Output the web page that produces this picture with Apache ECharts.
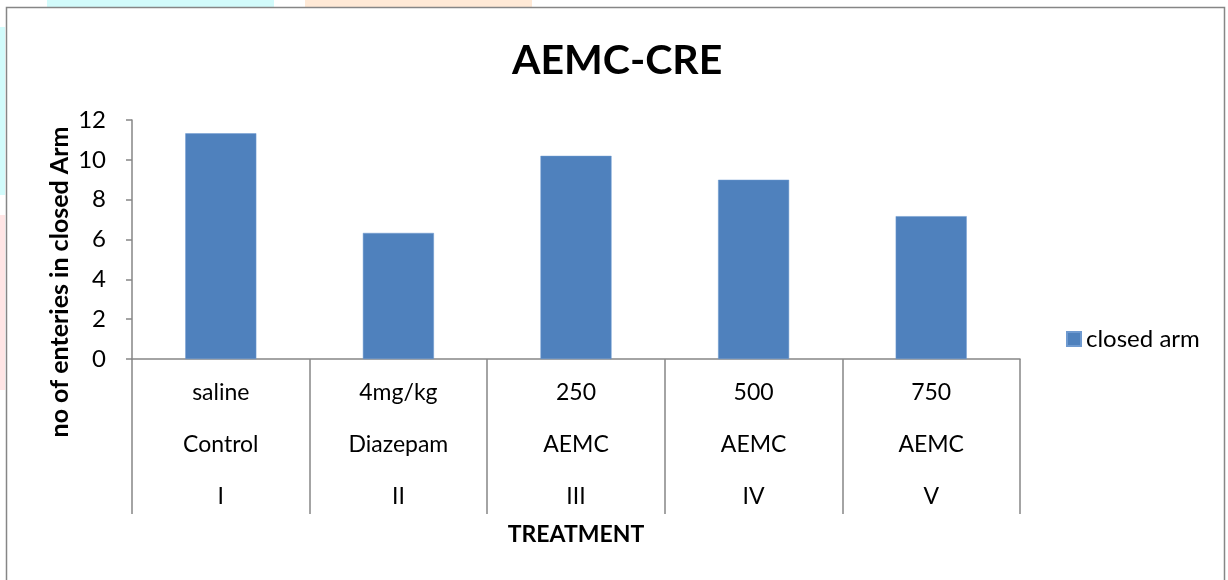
<!DOCTYPE html>
<html>
<head>
<meta charset="utf-8">
<script src="https://cdn.jsdelivr.net/npm/echarts@6/dist/echarts.min.js"></script>
<style>
html,body{margin:0;padding:0;background:#fff;}
#c{width:1228px;height:580px;}
</style>
</head>
<body>
<div id="c"></div>
<script>
const doses = ['saline', '4mg/kg', '250', '500', '750'];
const groups = ['Control', 'Diazepam', 'AEMC', 'AEMC', 'AEMC'];
const romans = ['I', 'II', 'III', 'IV', 'V'];
const closedArm = [11.33, 6.33, 10.2, 9.0, 7.17];
const yTicks = [0, 2, 4, 6, 8, 10, 12];

const categories = doses.map((d, i) => d + '\n' + groups[i] + '\n' + romans[i]);
const FONT = 'Lato, "Open Sans", sans-serif';

const chart = echarts.init(document.getElementById('c'));
chart.setOption({
  backgroundColor: '#fff',
  animation: false,
  title: {
    text: 'AEMC-CRE',
    left: 507,
    top: 35,
    textStyle: { fontFamily: FONT, fontSize: 41, fontWeight: 'bold', color: '#000' }
  },
  legend: {
    data: ['closed arm'],
    left: 1061,
    top: 322,
    itemWidth: 14,
    itemHeight: 14,
    itemGap: 6,
    icon: 'rect',
    textStyle: { fontFamily: FONT, fontSize: 24, color: '#000' }
  },
  grid: { left: 132, right: 208, top: 120, bottom: 221 },
  xAxis: {
    type: 'category',
    data: categories,
    boundaryGap: true,
    axisLine: { lineStyle: { color: '#868686', width: 1.5 } },
    axisTick: { show: true, length: 155, interval: 0, alignWithLabel: false, lineStyle: { color: '#868686', width: 1.5 } },
    axisLabel: { interval: 0, margin: 8, lineHeight: 52, fontFamily: FONT, fontSize: 23, color: '#000' }
  },
  yAxis: {
    type: 'value',
    min: yTicks[0],
    max: yTicks[yTicks.length - 1],
    interval: 2,
    splitLine: { show: false },
    axisLine: { show: true, lineStyle: { color: '#868686', width: 1.5 } },
    axisTick: { show: true, length: 6, lineStyle: { color: '#868686', width: 1.5 } },
    axisLabel: { margin: 26, fontFamily: FONT, fontSize: 24, color: '#000' }
  },
  series: [{
    name: 'closed arm',
    type: 'bar',
    data: closedArm,
    barWidth: '40%',
    itemStyle: { color: '#4F81BD', borderColor: '#6f9ad0', borderWidth: 0.5 }
  }],
  graphic: [
    { type: 'rect', shape: { x: 47, y: 0, width: 227, height: 7 }, style: { fill: '#d2fbfb' }, silent: true },
    { type: 'rect', shape: { x: 305, y: 0, width: 227, height: 7 }, style: { fill: '#ffe9d6' }, silent: true },
    { type: 'rect', shape: { x: 0, y: 27, width: 5, height: 168 }, style: { fill: '#d2fbfb' }, silent: true },
    { type: 'rect', shape: { x: 0, y: 215, width: 5, height: 175 }, style: { fill: '#ffe5e5' }, silent: true },
    { type: 'rect', shape: { x: 6.5, y: 7.5, width: 1218, height: 600 }, style: { fill: null, stroke: '#868686', lineWidth: 1.5 }, silent: true },
    {
      type: 'text', x: 60, y: 282, rotation: Math.PI / 2,
      style: { text: 'no of enteries in closed Arm', fontFamily: FONT, fontSize: 25, fontWeight: 'bold', fill: '#000', align: 'center', verticalAlign: 'middle' }
    },
    {
      type: 'text', x: 576, y: 535,
      style: { text: 'TREATMENT', fontFamily: FONT, fontSize: 23, fontWeight: 'bold', fill: '#000', align: 'center', verticalAlign: 'middle' }
    }
  ]
});
</script>
</body>
</html>
